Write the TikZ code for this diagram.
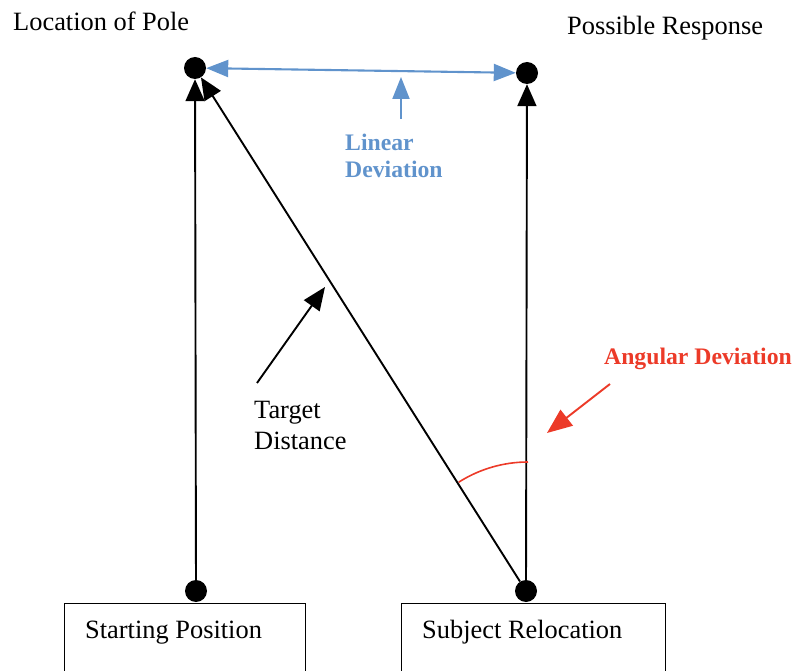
\documentclass[tikz,border=0pt]{standalone}
\usepackage{fontspec}
\setmainfont{Liberation Serif}
\usetikzlibrary{arrows.meta}
\definecolor{lblue}{RGB}{96,147,204}
\definecolor{ared}{RGB}{236,58,40}
\tikzset{
  dot/.style={circle,fill=black,inner sep=0pt,minimum size=22pt},
  conn/.style={line width=1.9pt,-{Triangle[length=22pt,width=19pt]}},
  bconn/.style={line width=2.1pt,lblue,{Triangle[length=22pt,width=17pt]}-{Triangle[length=22pt,width=17pt]}},
  lbl/.style={anchor=base west,inner sep=0pt,font=\fontsize{26.4}{30}\selectfont},
  blbl/.style={anchor=base west,inner sep=0pt,font=\fontsize{23.7}{27}\selectfont\bfseries},
  boxn/.style={draw,line width=1.4pt,anchor=north west,minimum height=100pt,inner sep=0pt}
}
\begin{document}
\begin{tikzpicture}[x=1pt,y=-1pt]
\useasboundingbox (0,0) rectangle (796,671);
% boxes
\node[boxn,minimum width=241pt] (box1) at (64,603) {};
\node[boxn,minimum width=264pt] (box2) at (401,603) {};
\node[lbl] (t1) at (85,638) {Starting Position};
\node[lbl] (t2) at (422,638) {Subject Relocation};
% dots
\node[dot] (pole) at (195,68) {};
\node[dot] (resp) at (527,73) {};
\node[dot] (start) at (196,591) {};
\node[dot] (reloc) at (526,591) {};
% labels
\node[lbl] (lp) at (13,31) {Location of Pole};
\node[lbl] (pr) at (567,35) {Possible Response};
\node[blbl,text=lblue] (ld1) at (345,151) {Linear};
\node[blbl,text=lblue] (ld2) at (345,178) {Deviation};
\node[blbl,text=ared] (ad) at (604,364) {Angular Deviation};
\node[lbl] (td1) at (254,418) {Target};
\node[lbl] (td2) at (254,449) {Distance};
% connectors
\draw[conn] (start) -- (pole);
\draw[conn] (reloc) -- (resp);
\draw[conn] (reloc) -- (pole);
\draw[bconn] (pole) -- (resp);
\coordinate (lb) at (401,119);
\coordinate (lt) at (401,77);
\draw[line width=2.1pt,lblue,-{Triangle[length=22pt,width=17pt]}] (lb) -- (lt);
\coordinate (tb) at (257,383);
\coordinate (tt) at (325,287);
\draw[line width=1.9pt,-{Triangle[length=23pt,width=19pt]}] (tb) -- (tt);
\coordinate (rb) at (610,384);
\coordinate (rt) at (547,433);
\draw[line width=1.9pt,ared,-{Triangle[length=25pt,width=20pt]}] (rb) -- (rt);
\draw[line width=1.6pt,ared] (reloc) ++(2,-129) arc[start angle=90,end angle=122.5,radius=129pt];
\end{tikzpicture}
\end{document}
